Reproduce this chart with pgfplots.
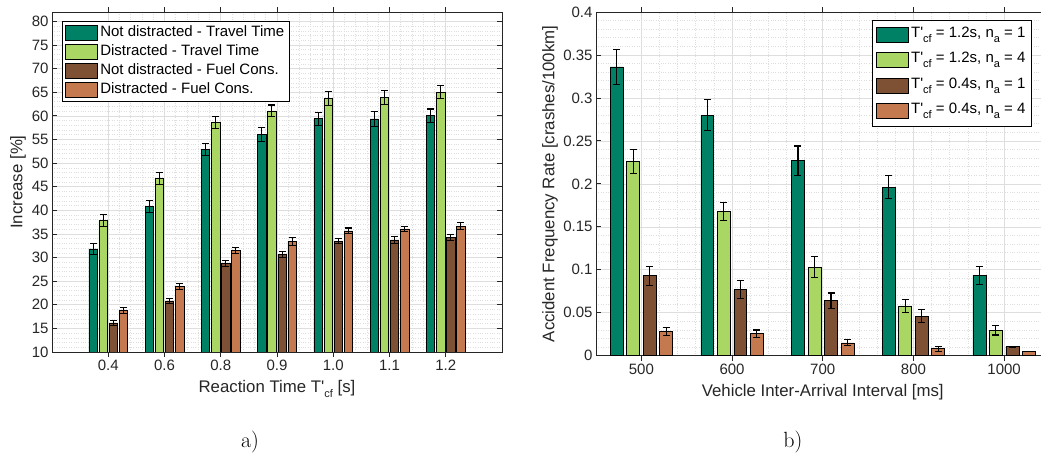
\documentclass[border=0pt]{standalone}
\usepackage{pgfplots}
\pgfplotsset{compat=1.18}
\usepackage{pgfplotstable}
\usepackage{fontspec}
\newfontfamily\arial{Liberation Sans}[Ligatures=TeXOff]
\definecolor{cA}{RGB}{0,128,100}
\definecolor{cB}{RGB}{170,214,100}
\definecolor{cC}{RGB}{126,80,52}
\definecolor{cD}{RGB}{196,121,78}
\definecolor{axgray}{RGB}{38,38,38}
\definecolor{gridgray}{RGB}{222,222,222}
\newcommand\tfont{\arial\fontsize{15bp}{18bp}\selectfont}
\newcommand\lfont{\arial\fontsize{16.8bp}{20bp}\selectfont}
\newcommand\sub[1]{\raisebox{-5bp}{\fontsize{11bp}{11bp}\selectfont #1}}

\pgfplotstableread{
x  a     ea    b     eb    c     ec    d     ed
1  31.85 1.2   37.85 1.2   16.15 0.55  18.8  0.7
2  40.8  1.2   46.8  1.25  20.8  0.6   23.95 0.65
3  52.9  1.3   58.55 1.3   28.7  0.65  31.5  0.65
4  56.0  1.45  61.05 1.25  30.65 0.7   33.4  0.85
5  59.4  1.4   63.65 1.5   33.45 0.55  35.65 0.6
6  59.35 1.55  63.9  1.5   33.75 0.75  36.05 0.55
7  60.05 1.4   65.05 1.45  34.2  0.65  36.65 0.7
}\dataL

\pgfplotstableread{
x  a      ea     b      eb     c      ec     d      ed
1  0.336  0.020  0.226  0.014  0.093  0.0108 0.028  0.0048
2  0.280  0.018  0.168  0.0105 0.077  0.010  0.0256 0.0043
3  0.227  0.017  0.103  0.012  0.064  0.009  0.015  0.0035
4  0.196  0.0135 0.058  0.0075 0.046  0.0075 0.0081 0.0027
5  0.0935 0.0103 0.0295 0.0054 0.0105 0.0005 0.0051 0.0003
}\dataR

\pgfplotsset{
  mystyle/.style={
    scale only axis,
    axis line style={draw=axgray, line width=0.8bp},
    every tick/.style={draw=axgray, line width=0.8bp},
    tick align=inside,
    tick pos=both,
    major tick length=5bp,
    minor tick length=0bp,
    grid=both,
    major grid style={draw=gridgray, line width=0.6bp},
    minor grid style={draw=gridgray, dotted, line width=0.6bp},
    minor x tick num=4,
    minor y tick num=4,
    ticklabel style={font=\tfont, text=axgray},
    /pgf/number format/assume math mode=true,
    ybar,
    every axis plot/.append style={
      draw=black, line width=0.6bp,
      error bars/y dir=both, error bars/y explicit,
      error bars/error bar style={black, line width=1.1bp},
      error bars/error mark options={black, line width=1.1bp, mark size=3.5bp, rotate=90}
    },
    legend style={font=\tfont, draw=black, line width=0.6bp, fill=white,
      cells={anchor=west}},
    legend image code/.code={\draw[#1, draw=black, line width=0.6bp] (0bp,-7bp) rectangle (32bp,8bp);},
  }
}

\begin{document}
\begin{tikzpicture}[x=1bp,y=1bp]
\begin{axis}[mystyle,
  at={(52bp,104bp)}, anchor=south west,
  width=450bp, height=340bp,
  xmin=0, xmax=8, ymin=10, ymax=82,
  xtick={1,2,3,4,5,6,7},
  xticklabels={0.4,0.6,0.8,0.9,1.0,1.1,1.2},
  ytick={10,15,...,80},
  bar width=0.15,
  xlabel={Reaction Time T'\sub{cf} [s]},
  ylabel={Increase [\%]},
  xlabel style={font=\lfont, text=axgray, at={(axis description cs:0.5,-0.1185)}, anchor=base},
  ylabel style={font=\lfont, text=axgray, at={(axis description cs:-0.0756,0.5)}, anchor=center},
  legend style={at={(0.022,0.9735)}, anchor=north west,
    nodes={inner sep=2.5bp, text height=11bp, text depth=3bp}},
]
\addplot[fill=cA, bar shift=-0.27] table[x=x,y=a,y error=ea]{\dataL};
\addplot[fill=cB, bar shift=-0.09] table[x=x,y=b,y error=eb]{\dataL};
\addplot[fill=cC, bar shift=0.09] table[x=x,y=c,y error=ec]{\dataL};
\addplot[fill=cD, bar shift=0.27] table[x=x,y=d,y error=ed]{\dataL};
\legend{Not distracted - Travel Time, Distracted - Travel Time, Not distracted - Fuel Cons., Distracted - Fuel Cons.}
\end{axis}

\begin{axis}[mystyle,
  at={(596bp,100.3bp)}, anchor=south west,
  width=453.5bp, height=343.7bp,
  xmin=0.5, xmax=5.5, ymin=0, ymax=0.4,
  xtick={1,2,3,4,5},
  xticklabels={500,600,700,800,1000},
  ytick={0,0.05,...,0.41},
  yticklabel style={/pgf/number format/fixed, /pgf/number format/precision=2},
  bar width=0.143,
  xlabel={Vehicle Inter-Arrival Interval [ms]},
  ylabel={Accident Frequency Rate [crashes/100km]},
  xlabel style={font=\lfont, text=axgray, at={(axis description cs:0.5,-0.1173)}, anchor=base},
  ylabel style={font=\lfont, text=axgray, at={(axis description cs:-0.1014,0.5)}, anchor=center},
  legend style={at={(0.9608,0.9767)}, anchor=north east,
    nodes={inner sep=3bp, text height=12bp, text depth=7.5bp}},
]
\addplot[fill=cA, bar shift=-0.273] table[x=x,y=a,y error=ea]{\dataR};
\addplot[fill=cB, bar shift=-0.091] table[x=x,y=b,y error=eb]{\dataR};
\addplot[fill=cC, bar shift=0.091] table[x=x,y=c,y error=ec]{\dataR};
\addplot[fill=cD, bar shift=0.273] table[x=x,y=d,y error=ed]{\dataR};
\legend{{T'\sub{cf} = 1.2s, n\sub{a} = 1},{T'\sub{cf} = 1.2s, n\sub{a} = 4},{T'\sub{cf} = 0.4s, n\sub{a} = 1},{T'\sub{cf} = 0.4s, n\sub{a} = 4}}
\end{axis}

\node[font=\fontsize{22bp}{24bp}\selectfont, anchor=center] at (250bp,14bp) {a)};
\node[font=\fontsize{22bp}{24bp}\selectfont, anchor=center] at (793bp,14bp) {b)};
\pgfresetboundingbox
\path (0bp,0bp) rectangle (1041bp,456bp);
\end{tikzpicture}
\end{document}
